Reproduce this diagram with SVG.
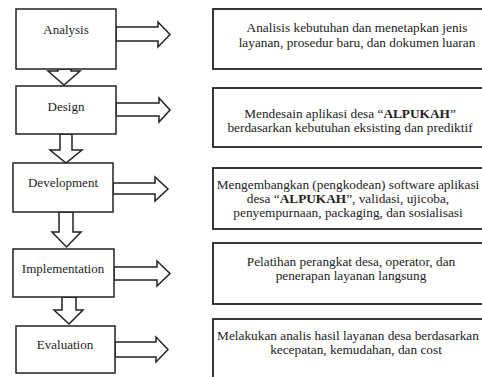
<svg xmlns="http://www.w3.org/2000/svg" width="482" height="377" viewBox="0 0 482 377">
<style>
.box{fill:#fff;stroke:#222;stroke-width:1.5}
.rbox{fill:#fff;stroke:#222;stroke-width:1.8}
.arr{fill:#fff;stroke:#222;stroke-width:1.5;stroke-linejoin:miter}
.lbl{font-family:"Liberation Serif","Times New Roman",serif;font-size:13px;fill:#222;text-anchor:middle}
.txt{font-family:"Liberation Serif","Times New Roman",serif;font-size:13.3px;fill:#222;text-anchor:middle}
.b{font-weight:bold}
</style>
<rect width="482" height="377" fill="#fff"/>
<g id="connectors">
<polygon class="arr" points="116,27 158,27 158,22 170,34.5 158,47 158,41 116,41"/>
<polygon class="arr" points="116,103 159,103 159,98 170,110 159,122 159,116 116,116"/>
<polygon class="arr" points="113,183 155,183 155,177 168,189 155,201 155,194 113,194"/>
<polygon class="arr" points="114,267 157,267 157,261 170,273.5 157,286 157,280 114,280"/>
<polygon class="arr" points="115,342 156,342 156,337 168,349.5 156,362 156,357 115,357"/>
<polygon class="arr" points="58,69 71,69 71,71 80,71 64,85 48,71 58,71"/>
<polygon class="arr" points="60,134 72,134 72,150 82,150 66,163 50,150 60,150"/>
<polygon class="arr" points="59,212 73,212 73,232 81,232 66.5,247 52,232 59,232"/>
<polygon class="arr" points="62,297 76,297 76,310 83,310 69,324 54,310 62,310"/>
</g>
<g id="analysis"><rect class="box" x="16" y="9" width="100" height="60"/><text class="lbl" x="66" y="34">Analysis</text></g>
<g id="design"><rect class="box" x="16" y="86" width="100" height="48"/><text class="lbl" x="66" y="111">Design</text></g>
<g id="development"><rect class="box" x="13" y="163" width="100" height="49"/><text class="lbl" x="63" y="187">Development</text></g>
<g id="implementation"><rect class="box" x="13" y="249" width="101" height="48"/><text class="lbl" x="63" y="273">Implementation</text></g>
<g id="evaluation"><rect class="box" x="16" y="326" width="99" height="47"/><text class="lbl" x="65" y="349">Evaluation</text></g>
<g id="desc-analysis"><rect class="rbox" x="213" y="9" width="300" height="60"/>
<text class="txt" x="357" y="32">Analisis kebutuhan dan menetapkan jenis</text>
<text class="txt" x="357" y="47">layanan, prosedur baru, dan dokumen luaran</text></g>
<g id="desc-design"><rect class="rbox" x="213" y="88" width="300" height="59"/>
<text class="txt" x="350" y="118">Mendesain aplikasi desa “<tspan class="b">ALPUKAH</tspan>”</text>
<text class="txt" x="350" y="132">berdasarkan kebutuhan eksisting dan prediktif</text></g>
<g id="desc-development"><rect class="rbox" x="213" y="168" width="300" height="61"/>
<text class="txt" x="348" y="189">Mengembangkan (pengkodean) software aplikasi</text>
<text class="txt" x="348" y="203">desa “<tspan class="b">ALPUKAH</tspan>”, validasi, ujicoba,</text>
<text class="txt" x="348" y="217">penyempurnaan, packaging, dan sosialisasi</text></g>
<g id="desc-implementation"><rect class="rbox" x="213" y="243" width="300" height="61"/>
<text class="txt" x="351" y="266">Pelatihan perangkat desa, operator, dan</text>
<text class="txt" x="351" y="280">penerapan layanan langsung</text></g>
<g id="desc-evaluation"><rect class="rbox" x="213" y="319" width="300" height="80"/>
<text class="txt" x="348" y="340">Melakukan analis hasil layanan desa berdasarkan</text>
<text class="txt" x="356" y="354">kecepatan, kemudahan, dan cost</text></g>
</svg>
